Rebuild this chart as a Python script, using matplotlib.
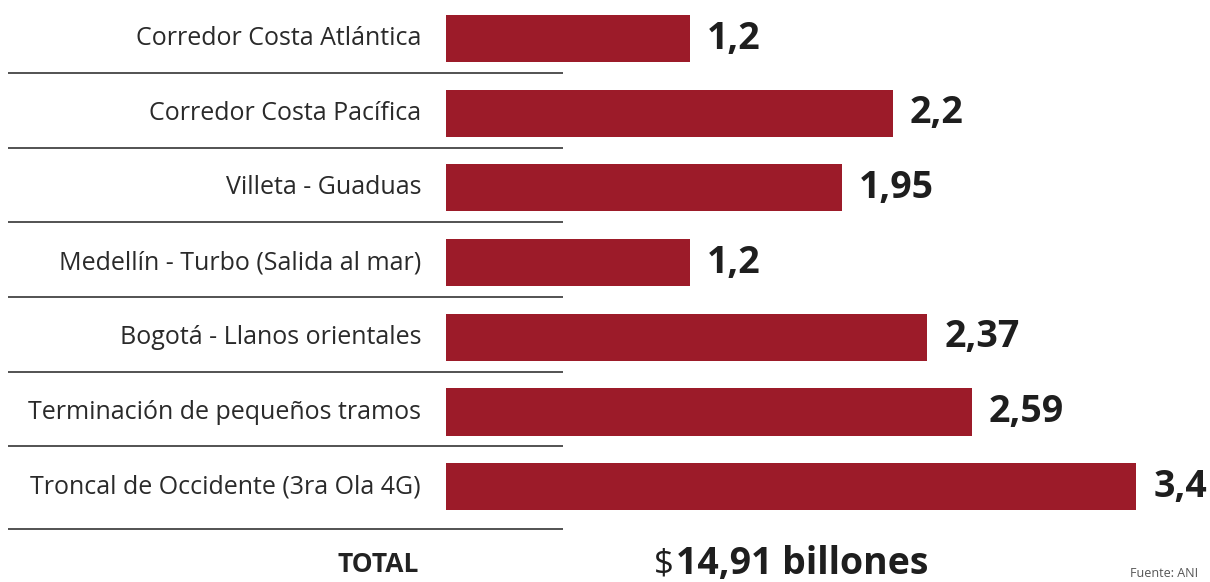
import matplotlib.pyplot as plt

# datos
proyectos = [
    "Corredor Costa Atlántica",
    "Corredor Costa Pacífica",
    "Villeta - Guaduas",
    "Medellín - Turbo (Salida al mar)",
    "Bogotá - Llanos orientales",
    "Terminación de pequeños tramos",
    "Troncal de Occidente (3ra Ola 4G)",
]
valores = [1.2, 2.2, 1.95, 1.2, 2.37, 2.59, 3.4]
etiquetas = ["1,2", "2,2", "1,95", "1,2", "2,37", "2,59", "3,4"]
total_txt = "14,91 billones"
fuente = "Fuente: ANI"

plt.rcParams['font.family'] = ['Open Sans', 'DejaVu Sans']

W, H = 1210, 582
px_unit = 203.0     # pixels per unit on x
x0 = 446            # bar start (px)
row0, row_h = 38.5, 74.7

fig = plt.figure(figsize=(W / 100, H / 100), dpi=100)
ax = fig.add_axes([0, 0, 1, 1])
ax.set_xlim(-x0 / px_unit, (W - x0) / px_unit)
ax.set_ylim((H - row0) / row_h, -row0 / row_h)
ax.axis('off')

ypos = list(range(len(valores)))
ax.barh(ypos, valores, height=0.63, color='#9c1b29', edgecolor='none')

lx = -25 / px_unit
for i, (p, v, e) in enumerate(zip(proyectos, valores, etiquetas)):
    ax.text(lx, i, p, ha='right', va='center', fontsize=18, color='#2a2a2a')
    ax.text(v + 17 / px_unit, i, e, ha='left', va='center', fontsize=27,
            fontweight='bold', color='#1e1e1e')
    off = 0.46 if i < len(valores) - 1 else 0.56
    ax.plot([-438 / px_unit, 117 / px_unit], [i + off, i + off],
            color='#444444', lw=1.3, solid_capstyle='butt')

ty = len(valores) + 0.04
ax.text(-68 / px_unit, ty, "TOTAL", ha='center', va='center', fontsize=19,
        fontweight='bold', color='#222222')
ax.text(208 / px_unit, ty, "$", ha='left', va='center', fontsize=25,
        color='#1e1e1e')
ax.text(230 / px_unit, ty, total_txt, ha='left', va='center', fontsize=27,
        fontweight='bold', color='#1e1e1e')
ax.text(684 / px_unit, ty + 0.12, fuente, ha='left', va='center', fontsize=9,
        color='#555555')

fig.savefig('out.png', dpi=100)
